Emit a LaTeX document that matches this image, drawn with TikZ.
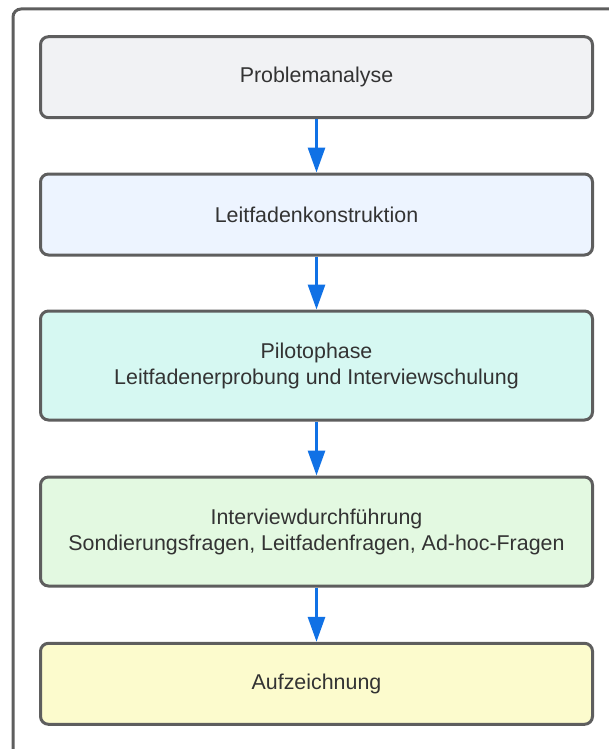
\documentclass[tikz,border=0pt]{standalone}
\usepackage{fontspec}
\setmainfont{Liberation Sans}
\usetikzlibrary{arrows.meta}
\definecolor{rahmen}{HTML}{5E5E5E}
\definecolor{schrift}{HTML}{333333}
\definecolor{pfeil}{HTML}{1071E5}
\definecolor{grau}{HTML}{F1F2F4}
\definecolor{blau}{HTML}{EDF4FF}
\definecolor{mint}{HTML}{D6F8F2}
\definecolor{gruen}{HTML}{E3F9E1}
\definecolor{gelb}{HTML}{FCFBCD}

\begin{document}
\begin{tikzpicture}[x=1pt,y=1pt,
  phase/.style={draw=rahmen, line width=3pt, rounded corners=8pt,
    minimum width=552pt, minimum height=81pt, align=center,
    text=schrift, font=\fontsize{21.4}{26}\selectfont},
  flow/.style={draw=pfeil, line width=3pt, -{Triangle[width=17pt,length=25pt]}}]
\useasboundingbox (0,0) rectangle (608,-749);
%%%%%FRAME%%%%%%%%%
\draw[rahmen, line width=3pt, rounded corners=8pt] (13,-9) rectangle (650,-790);

%%%%%PHASES%%%%%%%%
\node[phase, fill=grau] (analyse) at (316.5,-77.2) {Problemanalyse};
\node[phase, fill=blau] (leitfaden) at (316.5,-214.5) {Leitfadenkonstruktion};
\node[phase, fill=mint, minimum height=109pt] (pilot) at (316.5,-365.5)
  {Pilotophase\\Leitfadenerprobung und Interviewschulung};
\node[phase, fill=gruen, minimum height=109pt] (interview) at (316.5,-531.5)
  {Interviewdurchführung\\Sondierungsfragen, Leitfadenfragen, Ad-hoc-Fragen};
\node[phase, fill=gelb] (aufzeichnung) at (316.5,-683.8) {Aufzeichnung};

%%%%%ARROWS%%%%%%%%
\draw[flow] (analyse) -- (leitfaden);
\draw[flow] (leitfaden) -- (pilot);
\draw[flow] (pilot) -- (interview);
\draw[flow] (interview) -- (aufzeichnung);

\end{tikzpicture}
\end{document}
